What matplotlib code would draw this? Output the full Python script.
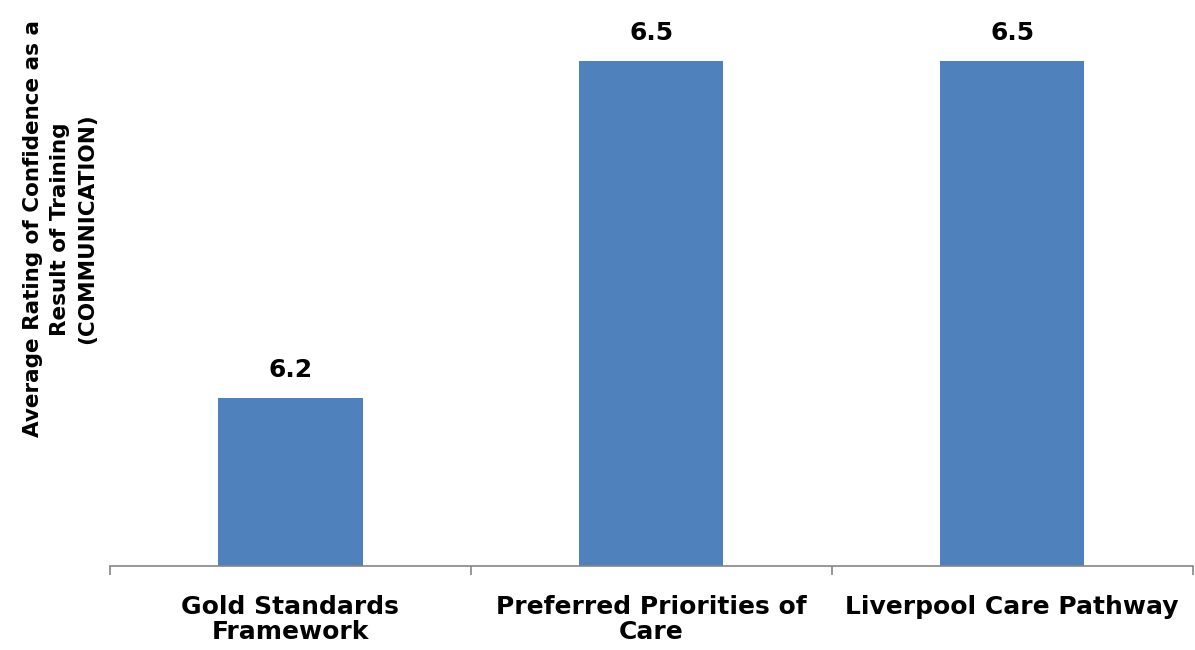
import numpy as np
import matplotlib
matplotlib.use("Agg")
import matplotlib.pyplot as plt

categories = ["Gold Standards\nFramework", "Preferred Priorities of\nCare", "Liverpool Care Pathway"]
values = [6.2, 6.5, 6.5]
value_labels = ["6.2", "6.5", "6.5"]

plt.rcParams['font.family'] = ['DejaVu Sans']

fig = plt.figure(figsize=(11.95, 6.5), dpi=100)
ax = fig.add_axes([0.092, 0.129, 0.906, 0.864])

x = np.arange(len(categories))
bars = ax.bar(x, values, width=0.4, color='#4F81BD', zorder=2)

for xi, v, lab in zip(x, values, value_labels):
    ax.annotate(lab, (xi, v), xytext=(0, 15), textcoords='offset points',
                ha='center', va='baseline', fontsize=18, fontweight='bold')

ax.set_ylim(6.05, 6.55)
ax.set_xlim(-0.5, len(categories) - 0.5)

for s in ['top', 'right', 'left']:
    ax.spines[s].set_visible(False)
ax.spines['bottom'].set_color('#868686')
ax.spines['bottom'].set_linewidth(1.2)

ax.set_yticks([])
ax.set_xticks(x)
ax.set_xticklabels(categories, fontsize=18, fontweight='bold', linespacing=1.05)
ax.tick_params(axis='x', which='major', length=0, pad=21)
ax.set_xticks(np.arange(-0.5, len(categories)), minor=True)
ax.tick_params(axis='x', which='minor', length=6.5, color='#868686', width=1.2, direction='out')

fig.text(0.05, 0.648, "Average Rating of Confidence as a\nResult of Training\n(COMMUNICATION)",
         rotation=90, ha='center', va='center', fontsize=15.5, fontweight='bold',
         linespacing=1.45, multialignment='center')

plt.savefig("out.png", dpi=100)
